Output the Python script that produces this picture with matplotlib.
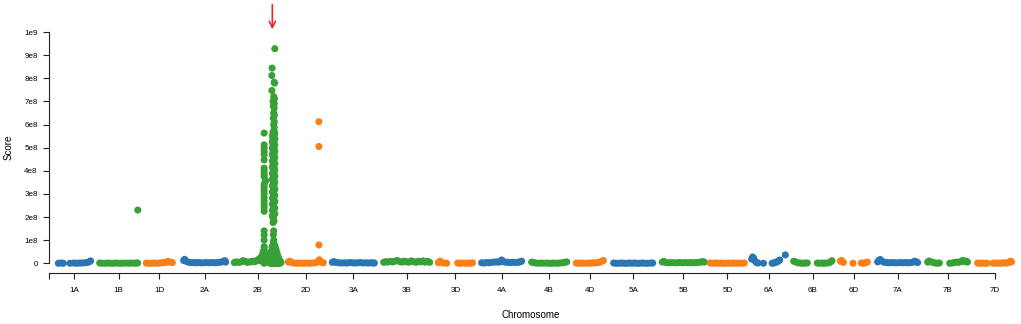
import numpy as np
import matplotlib.pyplot as plt

plt.rcParams['font.family'] = ['Liberation Sans', 'DejaVu Sans']

# Chromosomes and where each one starts on the concatenated genome axis (Mb)
chrom_names = ['1A', '1B', '1D', '2A', '2B', '2D', '3A', '3B', '3D', '4A', '4B',
               '4D', '5A', '5B', '5D', '6A', '6B', '6D', '7A', '7B', '7D']
chrom_start = [140, 760, 1460, 2020, 2780, 3590, 4250, 5020, 5840, 6490, 7240,
               7910, 8470, 9200, 9920, 10540, 11170, 11870, 12430, 13180, 13930]

# Marker positions within each chromosome (Mb) and scores (x 1e6)
chr1A_pos = [0, 40, 75, 175, 235, 275, 315, 355, 395, 430, 460, 483]
chr1A_score = [0, 1, 0, 0, 1, 0, 1, 1, 2, 3, 6, 10]
chr1B_pos = [0, 40, 85, 125, 170, 210, 255, 300, 340, 385, 430, 470, 515, 545, 570, 572]
chr1B_score = [1, 0, 0, 1, 0, 0, 1, 0, 0, 1, 0, 1, 0, 1, 1, 230]
chr1D_pos = [0, 35, 75, 115, 155, 195, 235, 270, 300, 325, 360, 390]
chr1D_score = [1, 0, 0, 1, 0, 1, 2, 3, 4, 8, 5, 3]
chr2A_pos = [0, 15, 35, 65, 100, 140, 180, 220, 260, 300, 340, 380, 420, 460, 500, 540,
             575, 600, 620, 630]
chr2A_score = [12, 17, 9, 5, 3, 3, 2, 3, 2, 2, 3, 2, 3, 2, 3, 4, 6, 9, 11, 5]

# 2B: background, left spike, right hump and the main peak column
chr2B_pos = [0, 30, 60, 95, 130, 160, 190, 220, 250, 280, 305, 330, 350, 370, 390, 405,
             420, 430, 438,
             405, 420, 420, 430, 430, 440, 440, 440, 447, 447, 447, 455, 455, 455, 462, 462,
             447, 447, 447, 447, 447,
             447, 447, 447, 447, 447, 447, 447, 447, 447, 462, 470, 447, 447, 447, 447,
             447, 447, 447, 447, 447, 447,
             470, 490, 510, 525,
             535, 535, 535, 550, 550, 550, 550, 565, 565, 565, 565, 565, 580, 580, 580, 580,
             580, 595, 595, 595, 595, 595, 610, 610, 610, 610, 610, 625, 625, 625, 625,
             640, 640, 640, 640, 655, 655, 655, 670, 670, 685, 685, 700,
             590, 585, 592, 585,
             580, 595, 588, 580, 595, 588, 580, 595, 588, 580, 595, 588, 580, 595, 588, 580,
             595, 588, 580, 595, 588, 580, 595, 588, 580, 595, 588, 580, 595, 588, 580, 595,
             588, 580, 595, 588, 580, 595, 588, 580, 595, 588, 580, 595, 588, 580, 595,
             570, 608, 572, 606, 570, 608, 572, 606, 570, 608, 572, 606, 570, 608, 572, 606,
             570, 608, 572, 606, 570, 608, 572, 606, 570, 608, 572, 606,
             607, 567, 563, 603, 598, 563, 590, 602, 580, 600, 585, 597, 590, 600, 585, 600,
             590, 598]
chr2B_score = [3, 6, 4, 5, 11, 9, 4, 5, 7, 9, 7, 10, 14, 18, 22, 28,
               35, 45, 52,
               10, 12, 22, 15, 30, 10, 25, 40, 0, 18, 35, 10, 28, 45, 8, 25,
               60, 72, 100, 122, 140,
               225, 240, 255, 270, 285, 300, 315, 330, 340, 352, 358, 375, 385, 397, 411,
               447, 469, 483, 498, 512, 563,
               6, 5, 9, 18,
               0, 12, 25, 0, 15, 32, 50, 0, 18, 36, 54, 70, 0, 20, 40, 60,
               78, 0, 20, 40, 60, 80, 0, 19, 38, 57, 75, 0, 20, 40, 60,
               0, 15, 30, 45, 0, 15, 30, 0, 18, 0, 10, 4,
               140, 123, 100, 90,
               176, 183, 192, 201, 209, 218, 226, 235, 243, 252, 261, 270, 279, 287, 296, 305,
               313, 322, 331, 339, 348, 357, 366, 374, 383, 392, 401, 409, 418, 427, 436, 444,
               453, 462, 470, 479, 488, 497, 505, 514, 523, 531, 540, 549, 557, 566, 574,
               205, 214, 228, 240, 256, 268, 281, 294, 308, 321, 336, 350, 362, 377, 390, 404,
               417, 431, 444, 458, 471, 485, 498, 511, 525, 538, 551, 562,
               928, 844, 812, 779, 783, 747, 721, 712, 700, 690, 680, 671, 650, 640, 627, 612,
               600, 588]

chr2D_pos = [0, 20, 45, 80, 120, 160, 200, 240, 280, 320, 360, 400, 430, 450, 465, 490, 525,
             458, 458, 458]
chr2D_score = [5, 9, 4, 1, 0, 1, 0, 0, 1, 0, 1, 2, 4, 9, 15, 5, 2, 612, 505, 79]
chr3A_pos = [0, 25, 60, 100, 140, 180, 220, 260, 300, 340, 380, 420, 460, 500, 540, 580,
             610, 630]
chr3A_score = [4, 7, 3, 2, 1, 2, 1, 3, 2, 1, 2, 3, 1, 2, 1, 2, 1, 1]
chr3B_pos = [0, 30, 65, 100, 135, 170, 205, 240, 275, 310, 345, 380, 415, 450, 485, 520,
             555, 590, 625, 660, 690]
chr3B_score = [4, 7, 5, 8, 6, 9, 12, 7, 5, 9, 6, 5, 10, 7, 4, 9, 6, 10, 5, 8, 4]
chr3D_pos = [0, 25, 50, 75, 125, 290, 325, 360, 410, 445, 480, 513]
chr3D_score = [3, 9, 4, 1, 0, 1, 0, 1, 0, 1, 0, 2]
chr4A_pos = [0, 35, 75, 115, 155, 195, 230, 260, 285, 300, 320, 350, 390, 430, 470, 510,
             550, 580, 600]
chr4A_score = [2, 1, 3, 2, 4, 5, 6, 5, 9, 14, 8, 5, 4, 3, 4, 3, 4, 7, 9]
chr4B_pos = [0, 25, 60, 100, 140, 180, 220, 260, 300, 340, 380, 420, 460, 495, 525]
chr4B_score = [5, 3, 1, 0, 1, 0, 1, 0, 0, 1, 0, 1, 2, 4, 6]
chr4D_pos = [0, 35, 75, 115, 160, 200, 240, 280, 320, 355, 385, 405]
chr4D_score = [1, 0, 1, 0, 1, 0, 2, 1, 3, 5, 9, 12]
chr5A_pos = [0, 35, 75, 115, 155, 195, 235, 275, 315, 355, 395, 435, 475, 515, 555, 585]
chr5A_score = [1, 0, 0, 1, 0, 0, 1, 0, 1, 0, 0, 1, 0, 0, 1, 1]
chr5B_pos = [0, 25, 60, 100, 140, 180, 220, 260, 300, 340, 380, 420, 460, 500, 540, 575,
             600, 630]
chr5B_score = [5, 8, 3, 2, 3, 2, 2, 3, 2, 3, 2, 3, 2, 3, 3, 5, 7, 5]
chr5D_pos = [0, 35, 75, 115, 155, 195, 235, 275, 315, 355, 395, 435, 475, 510]
chr5D_score = [1, 0, 1, 0, 1, 0, 0, 1, 0, 1, 0, 1, 0, 1]
chr6A_pos = [0, 15, 30, 50, 70, 95, 177, 307, 330, 355, 380, 400, 420, 505]
chr6A_score = [18, 27, 22, 10, 3, 1, 0, 0, 1, 3, 6, 10, 14, 36]
chr6B_pos = [0, 30, 65, 100, 135, 170, 205, 355, 390, 425, 460, 495, 530, 555, 575]
chr6B_score = [9, 6, 2, 1, 0, 1, 1, 1, 0, 1, 0, 1, 2, 6, 11]
chr6D_pos = [0, 20, 45, 190, 315, 345, 375, 405]
chr6D_score = [9, 12, 4, 0, 1, 0, 2, 5]
chr7A_pos = [0, 20, 40, 65, 100, 140, 180, 220, 260, 300, 340, 380, 420, 460, 500, 530,
             555, 580, 600]
chr7A_score = [6, 13, 16, 9, 4, 3, 2, 3, 2, 2, 3, 2, 3, 2, 3, 5, 9, 6, 3]
chr7B_pos = [0, 20, 45, 80, 115, 150, 175, 330, 365, 400, 435, 470, 500, 525, 550, 575, 597]
chr7B_score = [5, 10, 7, 3, 1, 0, 1, 0, 1, 3, 5, 4, 8, 12, 7, 10, 5]
chr7D_pos = [0, 35, 70, 110, 140, 230, 265, 300, 335, 370, 405, 440, 470, 495, 507]
chr7D_score = [1, 0, 1, 0, 0, 1, 0, 1, 0, 1, 2, 1, 4, 9, 6]

peak_arrow_pos = 570  # Mb on 2B, where the arrow sits

chrom_pos = [chr1A_pos, chr1B_pos, chr1D_pos, chr2A_pos, chr2B_pos, chr2D_pos, chr3A_pos,
             chr3B_pos, chr3D_pos, chr4A_pos, chr4B_pos, chr4D_pos, chr5A_pos, chr5B_pos,
             chr5D_pos, chr6A_pos, chr6B_pos, chr6D_pos, chr7A_pos, chr7B_pos, chr7D_pos]
chrom_score = [chr1A_score, chr1B_score, chr1D_score, chr2A_score, chr2B_score, chr2D_score,
               chr3A_score, chr3B_score, chr3D_score, chr4A_score, chr4B_score, chr4D_score,
               chr5A_score, chr5B_score, chr5D_score, chr6A_score, chr6B_score, chr6D_score,
               chr7A_score, chr7B_score, chr7D_score]
colors = {'A': '#2b75b3', 'B': '#37a137', 'D': '#fa7f14'}

fig = plt.figure(figsize=(10.21, 3.24), dpi=100)
ax = fig.add_axes([49 / 1021, 51.5 / 324, 972 / 1021, 249.7 / 324])

mids = []
for name, start, pos, score in zip(chrom_names, chrom_start, chrom_pos, chrom_score):
    x = start + np.array(pos)
    y = np.array(score) * 1e6
    ax.scatter(x, y, s=26, color=colors[name[1]], edgecolors='none', clip_on=False, zorder=3)
    mids.append((x.min() + x.max()) / 2)

ax.set_xlim(0, 14580)
ax.set_ylim(-4e7, 1.04e9)

ax.set_xticks([0] + mids)
ax.set_xticklabels([''] + chrom_names)
yt = np.arange(0, 11) * 1e8
ax.set_yticks(yt)
ax.set_yticklabels(['0'] + ['%de8' % i for i in range(1, 10)] + ['1e9'])

for s in ['top', 'right']:
    ax.spines[s].set_visible(False)
ax.spines['left'].set_bounds(0, 1e9)
ax.spines['bottom'].set_bounds(0, mids[-1])
for s in ['left', 'bottom']:
    ax.spines[s].set_linewidth(0.8)
    ax.spines[s].set_color('#222222')

ax.tick_params(axis='both', length=4.5, width=0.8, color='#222222', labelsize=5.8)
ax.tick_params(axis='y', pad=3.6)
ax.tick_params(axis='x', pad=6)

ax.set_xlabel('Chromosome', fontsize=7)
ax.set_ylabel('Score', fontsize=7)
ax.xaxis.set_label_coords(0.496, -0.15)
ax.yaxis.set_label_coords(-0.036, 0.5)

# red arrow marking the main peak
ax.annotate('', xy=(chrom_start[4] + peak_arrow_pos, 1.0e9),
            xytext=(chrom_start[4] + peak_arrow_pos, 1.13e9),
            arrowprops=dict(arrowstyle='->', color='#e8262b', lw=1.2, mutation_scale=11),
            annotation_clip=False)

fig.savefig('out.png', dpi=100)
